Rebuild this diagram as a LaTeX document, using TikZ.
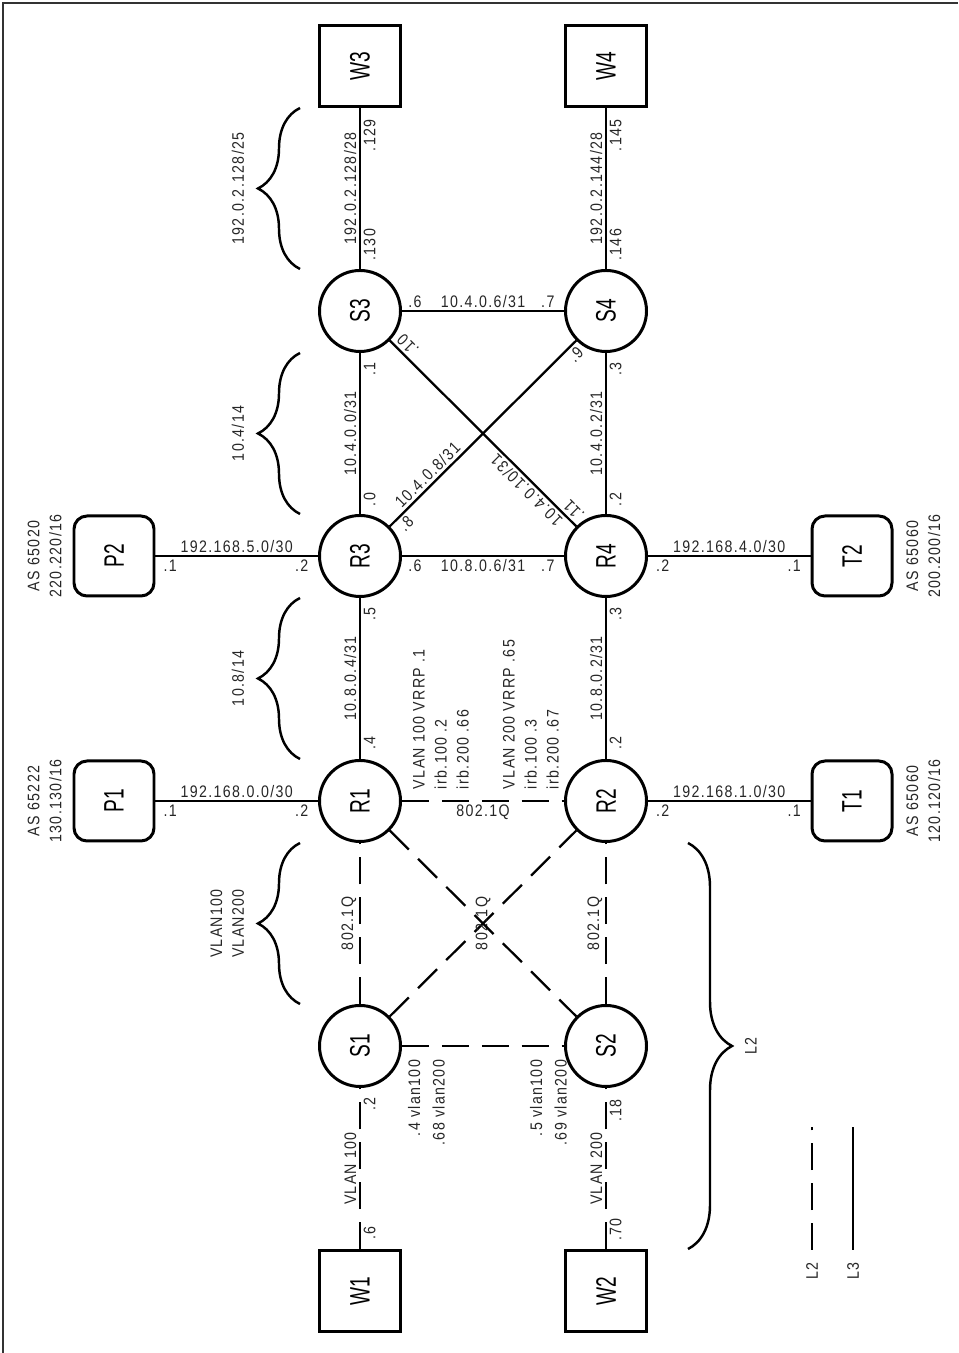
\documentclass[tikz,border=0pt]{standalone}
\usepackage{fontspec}
\setmainfont{Liberation Sans}[FakeStretch=0.85, LetterSpace=8]
\newfontfamily\namefont{Liberation Sans}[FakeStretch=0.68]
\usepackage{graphicx}
\usetikzlibrary{positioning,decorations.pathreplacing}

\begin{document}
\begin{tikzpicture}[
  node distance=4.9cm and 4.92cm, on grid,
  router/.style={circle, draw, line width=1.7pt, minimum size=1.62cm, inner sep=0pt, font=\namefont\fontsize{16}{18}\selectfont},
  host/.style={rectangle, draw, line width=1.7pt, minimum size=1.62cm, inner sep=0pt, font=\namefont\fontsize{16}{18}\selectfont},
  peer/.style={rectangle, draw, rounded corners=0.26cm, line width=1.7pt, minimum size=1.6cm, inner sep=0pt, font=\namefont\fontsize{16}{18}\selectfont},
  lbl/.style={font=\fontsize{9.5}{12.5}\selectfont, text=black!85, inner sep=1.5pt},
  vlbl/.style={lbl, rotate=90},
  l3/.style={line width=1.3pt},
  l2/.style={line width=1.3pt, dash pattern=on 15.3pt off 7.4pt},
  grp/.style={line width=1.4pt, decorate, decoration={brace, amplitude=0.84cm}}
]
\useasboundingbox (0,0) rectangle (19.16,27.06);
\draw[line width=1pt, black!80] (0.06,0) -- (0.06,27.0) -- (19.16,27.0);

% routers, switches, hosts
\node[router] (R1) at (7.2,11.04) {\rotatebox{90}{R1}};
\node[router, right=of R1] (R2) {\rotatebox{90}{R2}};
\node[router, above=of R1] (R3) {\rotatebox{90}{R3}};
\node[router, above=of R2] (R4) {\rotatebox{90}{R4}};
\node[router, above=of R3] (S3) {\rotatebox{90}{S3}};
\node[router, above=of R4] (S4) {\rotatebox{90}{S4}};
\node[host, above=of S3] (W3) {\rotatebox{90}{W3}};
\node[host, above=of S4] (W4) {\rotatebox{90}{W4}};
\node[router, below=of R1] (S1) {\rotatebox{90}{S1}};
\node[router, below=of R2] (S2) {\rotatebox{90}{S2}};
\node[host, below=of S1] (W1) {\rotatebox{90}{W1}};
\node[host, below=of S2] (W2) {\rotatebox{90}{W2}};
\node[peer, left=of R1] (P1) {\rotatebox{90}{P1}};
\node[peer, left=of R3] (P2) {\rotatebox{90}{P2}};
\node[peer, right=of R2] (T1) {\rotatebox{90}{T1}};
\node[peer, right=of R4] (T2) {\rotatebox{90}{T2}};

% AS numbers
\node[vlbl, align=center, anchor=south] (asP1) at ([xshift=-0.16cm]P1.west) {AS 65222\\130.130/16};
\node[vlbl, align=center, anchor=south] (asP2) at ([xshift=-0.16cm]P2.west) {AS 65020\\220.220/16};
\node[vlbl, align=center, anchor=north] (asT1) at ([xshift=0.2cm]T1.east) {AS 65060\\120.120/16};
\node[vlbl, align=center, anchor=north] (asT2) at ([xshift=0.2cm]T2.east) {AS 65060\\200.200/16};

% L3 links
\draw[l3] (P1) -- node[lbl, above]{192.168.0.0/30} node[lbl, below, pos=0.09]{.1} node[lbl, below, pos=0.9]{.2} (R1);
\draw[l3] (P2) -- node[lbl, above]{192.168.5.0/30} node[lbl, below, pos=0.09]{.1} node[lbl, below, pos=0.9]{.2} (R3);
\draw[l3] (R2) -- node[lbl, above]{192.168.1.0/30} node[lbl, below, pos=0.09]{.2} node[lbl, below, pos=0.9]{.1} (T1);
\draw[l3] (R4) -- node[lbl, above]{192.168.4.0/30} node[lbl, below, pos=0.09]{.2} node[lbl, below, pos=0.9]{.1} (T2);
\draw[l3] (R3) -- node[lbl, below]{10.8.0.6/31} node[lbl, below, pos=0.08]{.6} node[lbl, below, pos=0.9]{.7} (R4);
\draw[l3] (S3) -- node[lbl, above]{10.4.0.6/31} node[lbl, above, pos=0.08]{.6} node[lbl, above, pos=0.9]{.7} (S4);
\draw[l3] (R1) -- node[vlbl, anchor=south]{10.8.0.4/31} node[vlbl, anchor=north, pos=0.1]{.4} node[vlbl, anchor=north, pos=0.9]{.5} (R3);
\draw[l3] (R3) -- node[vlbl, anchor=south]{10.4.0.0/31} node[vlbl, anchor=north, pos=0.09]{.0} node[vlbl, anchor=north, pos=0.9]{.1} (S3);
\draw[l3] (S3) -- node[vlbl, anchor=south]{192.0.2.128/28} node[vlbl, anchor=north, pos=0.15]{.130} node[vlbl, anchor=north, pos=0.83]{.129} (W3);
\draw[l3] (R2) -- node[vlbl, anchor=south]{10.8.0.2/31} node[vlbl, anchor=north, pos=0.1]{.2} node[vlbl, anchor=north, pos=0.9]{.3} (R4);
\draw[l3] (R4) -- node[vlbl, anchor=south]{10.4.0.2/31} node[vlbl, anchor=north, pos=0.09]{.2} node[vlbl, anchor=north, pos=0.9]{.3} (S4);
\draw[l3] (S4) -- node[vlbl, anchor=south]{192.0.2.144/28} node[vlbl, anchor=north, pos=0.15]{.146} node[vlbl, anchor=north, pos=0.83]{.145} (W4);
\draw[l3] (R3) -- node[lbl, rotate=45, anchor=south, pos=0.24]{10.4.0.8/31} node[lbl, rotate=45, anchor=north, pos=0.05]{.8} node[lbl, rotate=45, anchor=north, pos=0.96]{.9} (S4);
\draw[l3] (S3) -- node[lbl, rotate=135, anchor=south, pos=0.77]{10.4.0.10/31} node[lbl, rotate=135, anchor=north, pos=0.06]{.10} node[lbl, rotate=135, anchor=north, pos=0.95]{.11} (R4);

% L2 links
\draw[l2] (W1) -- node[vlbl, anchor=south]{VLAN 100} node[vlbl, anchor=north, pos=0.1]{.6} node[vlbl, anchor=north, pos=0.9]{.2} (S1);
\draw[l2] (W2) -- node[vlbl, anchor=south]{VLAN 200} node[vlbl, anchor=north, pos=0.12]{.70} node[vlbl, anchor=north, pos=0.86]{.18} (S2);
\draw[l2] (S1) -- node[vlbl, anchor=south]{802.1Q} (R1);
\draw[l2] (S2) -- node[vlbl, anchor=south]{802.1Q} (R2);
\draw[l2] (S1) -- node[vlbl]{802.1Q} (R2);
\draw[l2] (R1) -- (S2);
\draw[l2] (S1) -- (S2);
\draw[l2] (R1) -- node[lbl, below]{802.1Q} (R2);

\node[vlbl, align=left, anchor=north west] (vrrp1) at ([shift={(0.16cm,0.18cm)}]R1.east) {VLAN 100 VRRP .1\\irb.100 .2\\irb.200 .66};
\node[vlbl, align=left, anchor=north west] (vrrp2) at ([shift={(-1.28cm,0.18cm)}]R2.west) {VLAN 200 VRRP .65\\irb.100 .3\\irb.200 .67};
\node[vlbl, align=right, anchor=north east] (tag1) at ([shift={(0.06cm,-0.22cm)}]S1.east) {.4 vlan100\\[1.5pt].68 vlan200};
\node[vlbl, align=right, anchor=north east] (tag2) at ([shift={(-0.74cm,-0.22cm)}]S2.west) {.5 vlan100\\[1.5pt].69 vlan200};

% address blocks
\draw[grp] ([xshift=-1.2cm]S1.north) -- node[xshift=-1.04cm, vlbl, anchor=south, align=center]{VLAN100\\VLAN200} ([xshift=-1.2cm]R1.south);
\draw[grp] ([xshift=-1.2cm]R1.north) -- node[xshift=-1.04cm, vlbl, anchor=south]{10.8/14} ([xshift=-1.2cm]R3.south);
\draw[grp] ([xshift=-1.2cm]R3.north) -- node[xshift=-1.04cm, vlbl, anchor=south]{10.4/14} ([xshift=-1.2cm]S3.south);
\draw[grp] ([xshift=-1.2cm]S3.north) -- node[xshift=-1.04cm, vlbl, anchor=south]{192.0.2.128/25} ([xshift=-1.2cm]W3.south);
\draw[grp, decoration={amplitude=0.88cm}] ([xshift=1.64cm]R2.south) -- node[xshift=1.06cm, vlbl, anchor=north]{L2} ([xshift=1.64cm]W2.north);

% legend
\coordinate (dA) at (16.24,2.06);
\coordinate (dB) at (16.24,4.52);
\coordinate (sA) at (17.06,2.06);
\coordinate (sB) at (17.06,4.52);
\draw[l2] (dA) -- (dB);
\draw[l3] (sA) -- (sB);
\node[vlbl, anchor=east] (legL2) at ([yshift=-0.19cm]dA) {L2};
\node[vlbl, anchor=east] (legL3) at ([yshift=-0.19cm]sA) {L3};
\end{tikzpicture}
\end{document}
